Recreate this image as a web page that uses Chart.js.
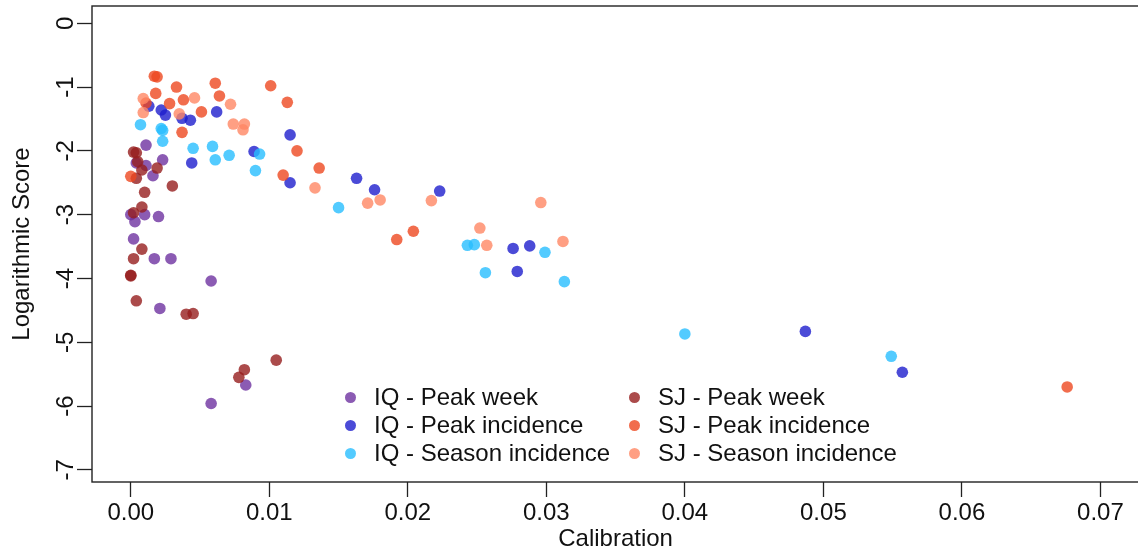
<!DOCTYPE html>
<html><head><meta charset="utf-8">
<script src="https://cdn.jsdelivr.net/npm/chart.js@4"></script>
<style>
html,body{margin:0;padding:0;background:#fff;overflow:hidden;width:1138px;height:554px}
#wrap{position:relative;width:1145px;height:554px}
#legend{position:absolute;left:0;top:0;font-family:"Liberation Sans",Arial,sans-serif;font-size:24px;color:#111}
.item{position:absolute;white-space:nowrap;line-height:28px;height:28px}
.dot{position:absolute;width:11px;height:11px;border-radius:50%;top:9px}
</style></head><body>
<div id="wrap"><canvas id="c" width="1145" height="554"></canvas><div id="legend"></div></div>
<script>
const xTicks = [0, 0.01, 0.02, 0.03, 0.04, 0.05, 0.06, 0.07];
const yTicks = [0, -1, -2, -3, -4, -5, -6, -7];
const seriesNames = ["IQ - Peak week", "IQ - Peak incidence", "IQ - Season incidence",
                     "SJ - Peak week", "SJ - Peak incidence", "SJ - Season incidence"];

const iqPeakWeek = [
  [0.0011,-1.91],[0.0023,-2.14],[0.0004,-2.19],[0.0011,-2.23],[0.0016,-2.39],
  [0.0000,-3.00],[0.0010,-3.00],[0.0020,-3.03],[0.0003,-3.11],[0.0002,-3.38],
  [0.0017,-3.69],[0.0029,-3.69],[0.0058,-4.04],[0.0021,-4.47],[0.0083,-5.67],[0.0058,-5.96]];
const iqPeakInc = [
  [0.0013,-1.30],[0.0022,-1.36],[0.0025,-1.44],[0.0037,-1.49],[0.0043,-1.52],[0.0062,-1.39],
  [0.0044,-2.19],[0.0115,-1.75],[0.0089,-2.01],[0.0115,-2.50],[0.0163,-2.43],[0.0176,-2.61],
  [0.0223,-2.63],[0.0276,-3.53],[0.0288,-3.49],[0.0279,-3.89],[0.0487,-4.83],[0.0557,-5.47]];
const iqSeasonInc = [
  [0.0007,-1.59],[0.0022,-1.65],[0.0023,-1.68],[0.0023,-1.85],[0.0045,-1.96],[0.0059,-1.93],
  [0.0061,-2.14],[0.0071,-2.07],[0.0093,-2.05],[0.0090,-2.31],[0.0150,-2.89],[0.0243,-3.48],
  [0.0248,-3.47],[0.0256,-3.91],[0.0299,-3.59],[0.0313,-4.05],[0.0400,-4.87],[0.0549,-5.22]];
const sjPeakWeek = [
  [0.0002,-2.02],[0.0004,-2.03],[0.0005,-2.17],[0.0008,-2.30],[0.0019,-2.27],[0.0004,-2.43],
  [0.0010,-2.65],[0.0030,-2.55],[0.0008,-2.88],[0.0002,-2.97],[0.0008,-3.54],[0.0002,-3.69],
  [0.0000,-3.95],[0.0000,-3.96],[0.0004,-4.35],[0.0040,-4.56],[0.0045,-4.55],[0.0105,-5.28],
  [0.0082,-5.43],[0.0078,-5.55]];
const sjPeakInc = [
  [0.0017,-0.83],[0.0019,-0.84],[0.0033,-1.00],[0.0018,-1.10],[0.0061,-0.94],[0.0064,-1.14],
  [0.0028,-1.26],[0.0038,-1.20],[0.0051,-1.39],[0.0037,-1.71],[0.0011,-1.25],[0.0000,-2.40],
  [0.0101,-0.98],[0.0113,-1.24],[0.0120,-2.00],[0.0136,-2.27],[0.0110,-2.38],[0.0192,-3.39],
  [0.0204,-3.26],[0.0676,-5.70]];
const sjSeasonInc = [
  [0.0009,-1.18],[0.0009,-1.40],[0.0046,-1.17],[0.0035,-1.42],[0.0072,-1.27],[0.0074,-1.58],
  [0.0082,-1.58],[0.0081,-1.67],[0.0133,-2.58],[0.0171,-2.82],[0.0180,-2.77],[0.0217,-2.78],
  [0.0252,-3.21],[0.0257,-3.48],[0.0296,-2.81],[0.0312,-3.42]];

const seriesData = [iqPeakWeek, iqPeakInc, iqSeasonInc, sjPeakWeek, sjPeakInc, sjSeasonInc];
const seriesColors = ["rgba(110,50,160,0.8)", "rgba(30,30,205,0.8)", "rgba(40,190,255,0.8)",
                      "rgba(150,30,30,0.8)", "rgba(238,72,32,0.8)", "rgba(255,135,100,0.8)"];

const FONT = "'Liberation Sans', Arial, sans-serif";
const FS = 24;

const datasets = seriesData.map((d, i) => ({
  label: seriesNames[i],
  data: d.map(p => ({x: p[0], y: p[1]})),
  backgroundColor: seriesColors[i],
  borderWidth: 0,
  pointRadius: 5.8,
  pointHoverRadius: 5.8,
  order: seriesData.length - i
}));

const boxPlugin = {
  id: 'box',
  afterDraw(chart) {
    const a = chart.chartArea, ctx = chart.ctx;
    ctx.save();
    ctx.strokeStyle = '#222';
    ctx.lineWidth = 1.4;
    ctx.strokeRect(a.left, a.top, a.right - a.left, a.bottom - a.top);
    ctx.restore();
  }
};

new Chart(document.getElementById('c'), {
  type: 'scatter',
  data: {datasets},
  plugins: [boxPlugin],
  options: {
    responsive: false,
    animation: false,
    devicePixelRatio: 1,
    layout: {padding: {top: 6, right: 4, left: 0, bottom: 0}},
    plugins: {legend: {display: false}, tooltip: {enabled: false}},
    events: [],
    scales: {
      x: {
        type: 'linear', min: -0.0028, max: 0.0728,
        afterBuildTicks: s => { s.ticks = xTicks.map(v => ({value: v})); },
        afterFit: s => { s.height = 72; s.paddingLeft = 0; s.paddingRight = 0; },
        border: {display: false},
        grid: {drawOnChartArea: false, drawTicks: true, tickLength: 15, tickColor: '#222', tickWidth: 1.3},
        ticks: {color: '#111', padding: 2, autoSkip: false, maxRotation: 0, minRotation: 0,
                font: {family: FONT, size: FS}, callback: v => Number(v).toFixed(2)},
        title: {display: true, text: 'Calibration', color: '#111',
                font: {family: FONT, size: FS}, padding: {top: 0, bottom: 0}}
      },
      y: {
        type: 'linear', min: -7.19, max: 0.27,
        afterBuildTicks: s => { s.ticks = yTicks.map(v => ({value: v})); },
        afterFit: s => { s.width = 92; s.paddingTop = 0; s.paddingBottom = 0; },
        border: {display: false},
        grid: {drawOnChartArea: false, drawTicks: true, tickLength: 15, tickColor: '#222', tickWidth: 1.3},
        ticks: {color: '#111', padding: 0, autoSkip: false, minRotation: 90, maxRotation: 90,
                crossAlign: 'center', font: {family: FONT, size: FS}, callback: v => String(v)},
        title: {display: true, text: 'Logarithmic Score', color: '#111',
                font: {family: FONT, size: FS}, padding: {top: 8, bottom: 0}}
      }
    }
  }
});

// legend built from the series
const legendPos = {textLeft: [374, 658], rowTop: [383, 411, 439]};
const lg = document.getElementById('legend');
seriesNames.forEach((name, i) => {
  const col = i < 3 ? 0 : 1, row = i % 3;
  const it = document.createElement('div');
  it.className = 'item';
  it.style.left = legendPos.textLeft[col] + 'px';
  it.style.top = legendPos.rowTop[row] + 'px';
  const dot = document.createElement('span');
  dot.className = 'dot';
  dot.style.left = '-29px';
  dot.style.background = seriesColors[i];
  it.appendChild(dot);
  it.appendChild(document.createTextNode(name));
  lg.appendChild(it);
});
</script>
</body></html>
